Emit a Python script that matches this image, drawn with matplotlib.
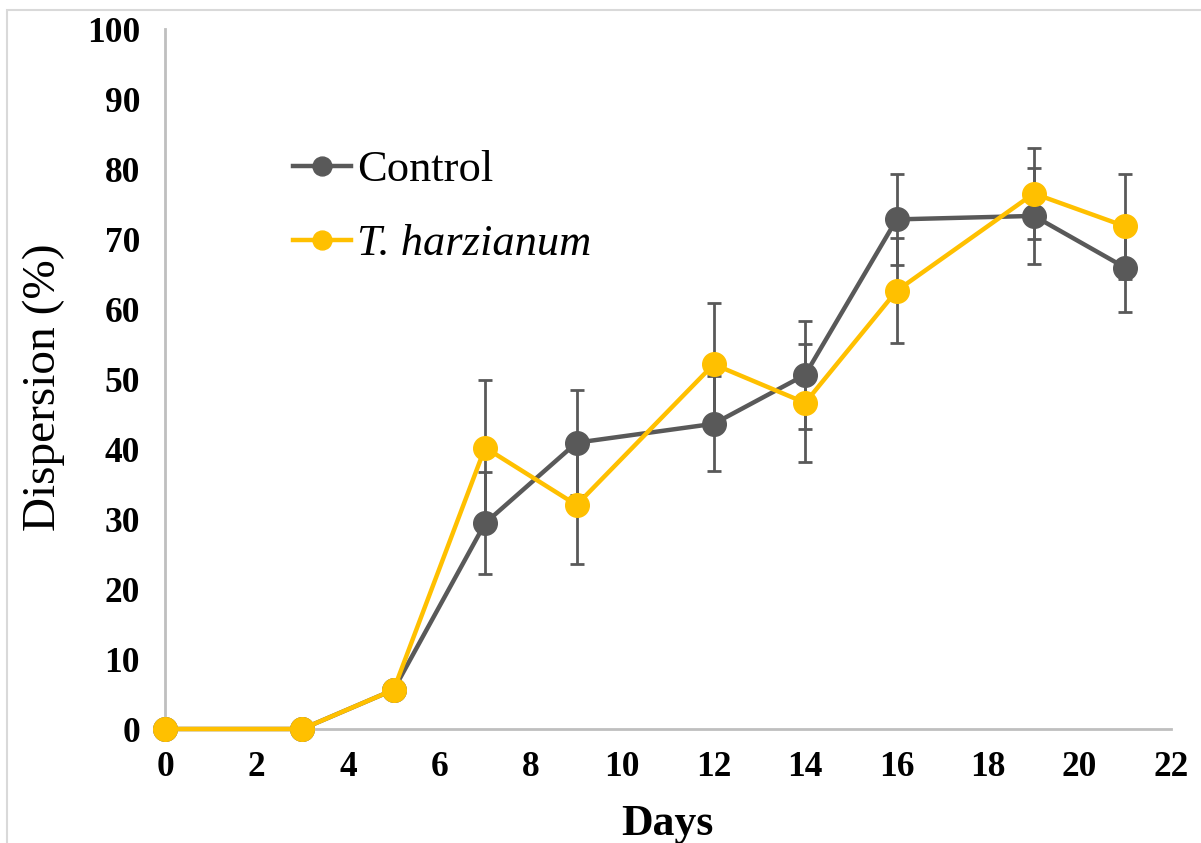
import numpy as np
import matplotlib.pyplot as plt
from matplotlib.patches import Rectangle

# sampling days
days = [0, 3, 5, 7, 9, 12, 14, 16, 19, 21]

# mean dispersion (%) and standard deviation per day
control = [0, 0, 5.6, 29.4, 40.9, 43.6, 50.6, 72.8, 73.3, 65.9]
control_err = [0, 0, 1.0, 7.3, 7.5, 6.8, 7.7, 6.5, 6.8, 6.4]
harz = [0, 0, 5.6, 40.2, 32.0, 52.1, 46.6, 62.6, 76.5, 71.8]
harz_err = [0, 0, 1.0, 9.6, 8.4, 8.8, 8.4, 7.5, 6.5, 7.5]

xticks = list(range(0, 23, 2))
yticks = list(range(0, 101, 10))

gray = '#595959'
gold = '#FFC000'
serif = ['Liberation Serif', 'DejaVu Serif']

fig = plt.figure(figsize=(12.01, 8.43), dpi=100)
ax = fig.add_axes([165 / 1201, 1 - 729 / 843, (1171 - 165) / 1201, (729 - 29) / 843])

# outer chart frame
fig.patches.append(Rectangle((7 / 1201, -0.1), 1.2, 1 - 10 / 843 + 0.1,
                             transform=fig.transFigure, fill=False,
                             edgecolor='#D9D9D9', linewidth=1.5))

# error bars under the lines
ax.errorbar(days, control, yerr=control_err, fmt='none', ecolor=gray,
            elinewidth=2, capsize=5, capthick=2, zorder=2)
ax.errorbar(days, harz, yerr=harz_err, fmt='none', ecolor=gray,
            elinewidth=2, capsize=5, capthick=2, zorder=2)

ax.plot(days, control, color=gray, linewidth=3.2, marker='o', markersize=17,
        label='Control', zorder=3)
ax.plot(days, harz, color=gold, linewidth=3.2, marker='o', markersize=17,
        label='T. harzianum', zorder=4)

ax.set_xlim(0, 22)
ax.set_ylim(0, 100)
ax.set_xticks(xticks)
ax.set_yticks(yticks)
ax.tick_params(length=0, labelsize=25.5)
ax.tick_params(axis='x', pad=16)
ax.tick_params(axis='y', pad=18)
for lab in ax.get_xticklabels() + ax.get_yticklabels():
    lab.set_family(serif)
    lab.set_fontweight('bold')

for side in ['top', 'right']:
    ax.spines[side].set_visible(False)
for side in ['left', 'bottom']:
    ax.spines[side].set_color('#BFBFBF')
    ax.spines[side].set_linewidth(2)
for s in ax.spines.values():
    s.set_clip_on(False)
for ln in ax.lines:
    ln.set_clip_on(False)

fig.text(667 / 1201, 1 - 835 / 843, 'Days', family=serif, fontsize=31.5,
         fontweight='bold', ha='center', va='baseline')
fig.text(44 / 1201, 1 - 387 / 843, 'Dispersion (%)', family=serif,
         fontsize=34, rotation=90, ha='center', va='center')

leg = ax.legend(loc='upper left', bbox_to_anchor=(293 / 1201, 1 - 150 / 843),
                bbox_transform=fig.transFigure, frameon=False, fontsize=32,
                handlelength=1.3, handletextpad=0.15, labelspacing=0.77,
                borderpad=0, borderaxespad=0, markerscale=0.8)
for t in leg.get_texts():
    t.set_family(serif)
leg.get_texts()[1].set_fontstyle('italic')

fig.savefig('out.png', dpi=100)
